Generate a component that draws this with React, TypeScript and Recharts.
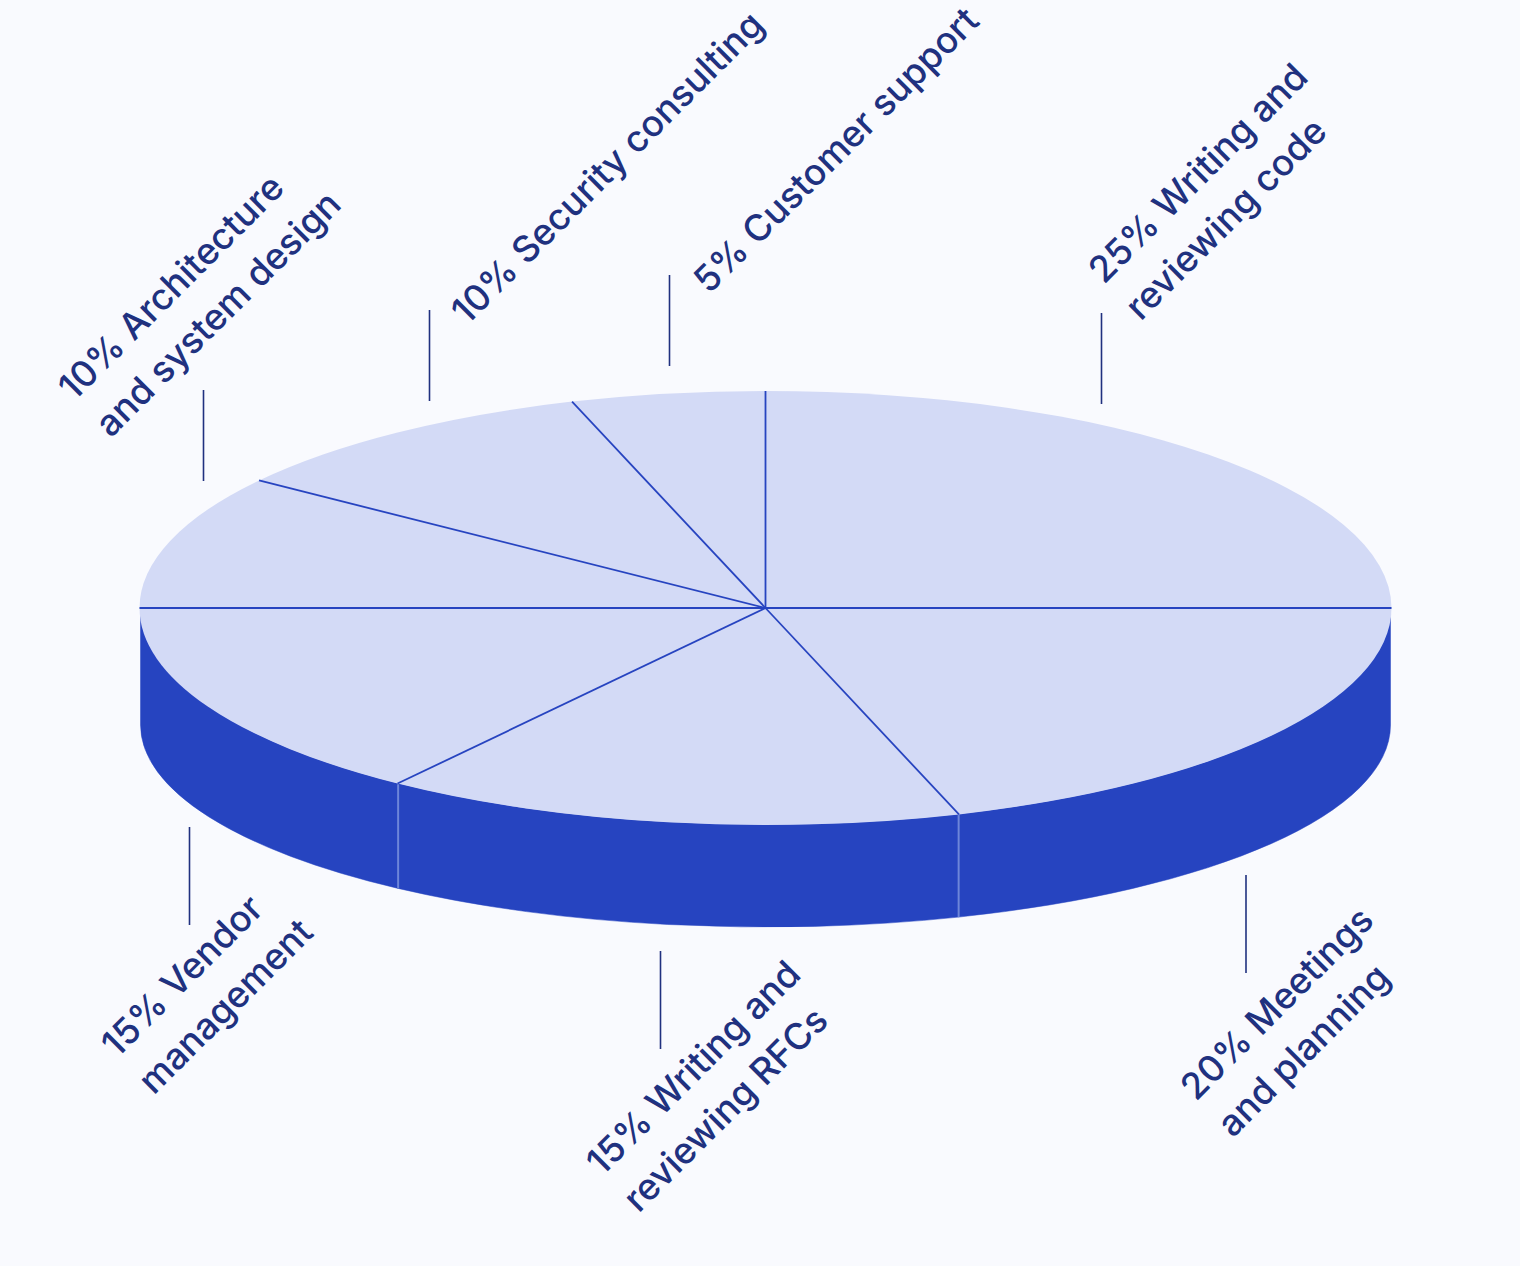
import React from "react";
import { PieChart, Pie } from "recharts";

const categories = [
  "Writing and reviewing code",
  "Meetings and planning",
  "Writing and reviewing RFCs",
  "Vendor management",
  "Architecture and system design",
  "Security consulting",
  "Customer support",
];
const shares = [25, 20, 15, 15, 10, 10, 5];
const labelFirstLines = [
  "Writing and",
  "Meetings",
  "Writing and",
  "Vendor",
  "Architecture",
  "Security consulting",
  "Customer support",
];
const labelSecondLines = ["reviewing code", "and planning", "reviewing RFCs", "management", "and system design", "", ""];

const data = categories.map((name, i) => ({ name, value: shares[i] }));

// hand placed, the labels do not follow the slice midpoints in the original
const labelSpots = [
  { x: 1104, y: 285, lineX: 1101.5, lineY: 313, lineLen: 91 },
  { x: 1196, y: 1102, lineX: 1246, lineY: 875, lineLen: 98 },
  { x: 602, y: 1177, lineX: 660.5, lineY: 951, lineLen: 98 },
  { x: 117, y: 1059, lineX: 189.5, lineY: 827, lineLen: 98 },
  { x: 74, y: 402, lineX: 203.5, lineY: 390, lineLen: 91 },
  { x: 467, y: 326, lineX: 429.5, lineY: 310, lineLen: 91 },
  { x: 709, y: 295, lineX: 669.5, lineY: 275, lineLen: 91 },
];

const TILT = 217 / 626;
// the bottom rim is a flatter ellipse than the top face
const BOTTOM_DROP = 117;
const BOTTOM_RY = 202;
const LINE_GAP = 52;
const TEXT_COLOR = "#20317f";

const rad = (deg: number) => (deg * Math.PI) / 180;

function onEllipse(cx: number, cy: number, r: number, deg: number) {
  return { x: cx + r * Math.cos(rad(deg)), y: cy - r * TILT * Math.sin(rad(deg)) };
}

function TopSlice(props: any) {
  const { cx, cy, outerRadius: r, startAngle, endAngle } = props;
  const a = onEllipse(cx, cy, r, startAngle);
  const b = onEllipse(cx, cy, r, endAngle);
  const large = Math.abs(startAngle - endAngle) > 180 ? 1 : 0;
  return (
    <path
      d={`M${cx},${cy} L${a.x},${a.y} A${r},${r * TILT} 0 ${large} 1 ${b.x},${b.y} Z`}
      fill="#d3daf6"
      stroke="none"
    />
  );
}

function Spoke(props: any) {
  const { cx, cy, outerRadius: r, startAngle } = props;
  const a = onEllipse(cx, cy, r, startAngle);
  return <line x1={cx} y1={cy} x2={a.x} y2={a.y} stroke="#2744c0" strokeWidth={1.8} />;
}

// only the part of a slice in the front half has a visible wall
function WallSlice(props: any) {
  const { cx, cy, outerRadius, startAngle, endAngle } = props;
  const r = outerRadius - 1;
  const from = Math.min(startAngle, 0);
  const to = Math.max(endAngle, -180);
  if (from <= to) return <g />;
  const a = onEllipse(cx, cy, r, from);
  const b = onEllipse(cx, cy, r, to);
  const low = cy + BOTTOM_DROP;
  const aLow = low - BOTTOM_RY * Math.sin(rad(from));
  const bLow = low - BOTTOM_RY * Math.sin(rad(to));
  return (
    <g>
      <path
        d={`M${a.x},${a.y} A${r},${r * TILT} 0 0 1 ${b.x},${b.y} L${b.x},${bLow} A${r},${BOTTOM_RY} 0 0 0 ${a.x},${aLow} Z`}
        fill="#2644c0"
        stroke="#2644c0"
        strokeWidth={0.5}
      />
      {from < 0 && <line x1={a.x} y1={a.y + 1} x2={a.x} y2={aLow} stroke="#6d86d9" strokeWidth={2} />}
    </g>
  );
}

function SliceLabel(props: any) {
  const { index } = props;
  const spot = labelSpots[index];
  return (
    <g>
      <line
        x1={spot.lineX}
        y1={spot.lineY}
        x2={spot.lineX}
        y2={spot.lineY + spot.lineLen}
        stroke={TEXT_COLOR}
        strokeWidth={1.6}
      />
      <text
        x={spot.x}
        y={spot.y}
        transform={`rotate(-45 ${spot.x} ${spot.y})`}
        fill={TEXT_COLOR}
        fontFamily="Inter, sans-serif"
        fontWeight={500}
        fontSize={36.5}
      >
        <tspan x={spot.x}>{`${shares[index]}% ${labelFirstLines[index]}`}</tspan>
        {labelSecondLines[index] && (
          <tspan x={spot.x} dy={LINE_GAP}>
            {labelSecondLines[index]}
          </tspan>
        )}
      </text>
    </g>
  );
}

export default function App() {
  const pieProps = {
    data,
    dataKey: "value",
    nameKey: "name",
    cx: 765.5,
    cy: 608,
    innerRadius: 0,
    outerRadius: 626,
    startAngle: 90,
    endAngle: -270,
    isAnimationActive: false,
    labelLine: false,
    stroke: "none",
  };
  return (
    <div style={{ position: "absolute", left: 0, top: 0, width: 1520, height: 1266, background: "#f9fafe" }}>
      <PieChart width={1520} height={1266} margin={{ top: 0, right: 0, bottom: 0, left: 0 }}>
        <Pie {...pieProps} shape={WallSlice} />
        <Pie {...pieProps} shape={TopSlice} />
        <Pie {...pieProps} shape={Spoke} label={SliceLabel} />
      </PieChart>
    </div>
  );
}
